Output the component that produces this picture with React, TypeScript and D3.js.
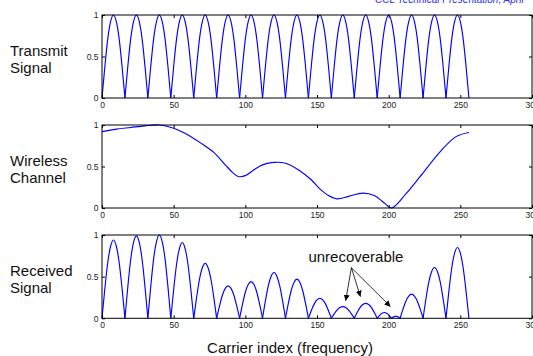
import React, { useEffect, useRef } from "react";
import * as d3 from "d3";

// tick values and labels
const xTicks = [0, 50, 100, 150, 200, 250, 300];
const yTicks = [0, 0.5, 1];
const panelTitles = [
  ["Transmit", "Signal"],
  ["Wireless", "Channel"],
  ["Received", "Signal"],
];

// shape of one sub-carrier lobe (fraction of the lobe's peak)
const lobeProfile = [0, 0.38, 0.71, 0.92, 1, 0.92, 0.71, 0.38, 0];

// transmit: [start, end, peak] per carrier lobe
const transmitLobes: [number, number, number][] = [
  [0, 16, 1], [16, 32, 1], [32, 48, 1], [48, 64, 1],
  [64, 80, 1], [80, 96, 1], [96, 112, 1], [112, 128, 1],
  [128, 144, 1], [144, 160, 1], [160, 176, 1], [176, 192, 1],
  [192, 208, 1], [208, 224, 1], [224, 240, 1], [240, 256, 1],
];

// channel magnitude [carrier, value]
const channelPoints: [number, number][] = [
  [0, 0.92], [10, 0.95], [20, 0.97], [30, 0.99], [40, 1.0], [50, 0.96],
  [60, 0.88], [70, 0.77], [78, 0.67], [86, 0.52], [91, 0.43], [95, 0.38],
  [100, 0.39], [106, 0.46], [112, 0.52], [120, 0.55], [128, 0.54], [138, 0.45],
  [146, 0.34], [152, 0.23], [158, 0.15], [164, 0.11], [172, 0.14], [182, 0.18],
  [190, 0.15], [197, 0.06], [202, 0.0], [212, 0.17], [222, 0.38], [236, 0.68],
  [247, 0.86], [256, 0.91],
];

// received: [start, end, peak] per lobe
const receivedLobes: [number, number, number][] = [
  [0, 16, 0.94], [16, 32, 0.99], [32, 48, 1.0], [48, 64, 0.91],
  [64, 80, 0.66], [80, 96, 0.39], [96, 112, 0.44], [112, 128, 0.55],
  [128, 144, 0.47], [144, 160, 0.24], [160, 176, 0.14], [176, 192, 0.18],
  [192, 202, 0.07], [202, 208, 0.025], [208, 224, 0.29], [224, 240, 0.61],
  [240, 256, 0.85],
];

// annotation (data units of the bottom panel)
const noteText = "unrecoverable";
const notePos: [number, number] = [144, 0.67];
const arrowStart: [number, number] = [174, 0.607];
const arrowEnds: [number, number][] = [
  [170, 0.21],
  [180.3, 0.26],
  [201.3, 0.14],
];

const header = "CCL Technical Presentation, April";
const xLabel = "Carrier index (frequency)";

export default function App() {
  const ref = useRef<SVGSVGElement>(null);

  useEffect(() => {
    const svg = d3.select(ref.current);
    svg.selectAll("*").remove();
    const font = "'Liberation Sans', Arial, sans-serif";
    const left = 102;
    const right = 532;
    const panels = [
      { top: 15, bottom: 98 },
      { top: 125, bottom: 208 },
      { top: 235, bottom: 318.3 },
    ];
    const x = d3.scaleLinear().domain([0, 300]).range([left, right]);

    svg
      .append("defs")
      .append("marker")
      .attr("id", "arr")
      .attr("viewBox", "0 0 10 10")
      .attr("refX", 10)
      .attr("refY", 5)
      .attr("markerWidth", 6)
      .attr("markerHeight", 6)
      .attr("markerUnits", "userSpaceOnUse")
      .attr("orient", "auto")
      .append("path")
      .attr("d", "M0,0L10,5L0,10z")
      .attr("fill", "#000");

    svg
      .append("text")
      .text(header)
      .attr("x", 375)
      .attr("y", 3)
      .attr("fill", "#2b2bff")
      .attr("font-style", "italic")
      .attr("font-family", font)
      .attr("font-size", 10);

    const lobePaths = (lobes: [number, number, number][]) =>
      lobes.map(([s, e, p]) =>
        lobeProfile.map(
          (f, i) => [s + ((e - s) * i) / (lobeProfile.length - 1), p * f] as [number, number]
        )
      );

    const series = [
      lobePaths(transmitLobes),
      [channelPoints],
      lobePaths(receivedLobes),
    ];

    panels.forEach((pn, k) => {
      const y = d3.scaleLinear().domain([0, 1]).range([pn.bottom, pn.top]);
      const g = svg.append("g");

      const line = d3
        .line<[number, number]>()
        .x((d) => x(d[0]))
        .y((d) => y(d[1]))
        .curve(k === 1 ? d3.curveCatmullRom.alpha(0.5) : d3.curveMonotoneX);

      series[k].forEach((pts) => {
        g.append("path")
          .attr("d", line(pts))
          .attr("fill", "none")
          .attr("stroke", "#0000ff")
          .attr("stroke-width", 1.15);
      });

      const bx = g.append("g").attr("transform", `translate(0,${pn.bottom})`)
        .call(d3.axisBottom(x).tickValues(xTicks).tickSize(-3).tickPadding(4));
      const tx = g.append("g").attr("transform", `translate(0,${pn.top})`)
        .call(d3.axisTop(x).tickValues(xTicks).tickSize(-3).tickFormat(() => ""));
      const ly = g.append("g").attr("transform", `translate(${left},0)`)
        .call(d3.axisLeft(y).tickValues(yTicks).tickSize(-3).tickPadding(3.5)
          .tickFormat((d) => String(d)));
      const ry = g.append("g").attr("transform", `translate(${right},0)`)
        .call(d3.axisRight(y).tickValues(yTicks).tickSize(-3).tickFormat(() => ""));
      [bx, tx, ly, ry].forEach((a) => {
        a.select(".domain").remove();
        a.selectAll("text")
          .attr("font-family", font)
          .attr("font-size", 8.5)
          .attr("fill", "#222");
        a.selectAll("line").attr("stroke", "#000");
      });

      g.append("rect")
        .attr("x", left)
        .attr("y", pn.top)
        .attr("width", right - left)
        .attr("height", pn.bottom - pn.top)
        .attr("fill", "none")
        .attr("stroke", "#000")
        .attr("stroke-width", 1);

      const mid = (pn.top + pn.bottom) / 2;
      panelTitles[k].forEach((t, i) => {
        svg.append("text")
          .text(t)
          .attr("x", 10)
          .attr("y", mid - 1 + i * 17)
          .attr("font-family", font)
          .attr("font-size", 15)
          .attr("fill", "#111");
      });

      if (k === 2) {
        svg.append("text")
          .text(noteText)
          .attr("x", x(notePos[0]))
          .attr("y", y(notePos[1]))
          .attr("font-family", font)
          .attr("font-size", 15)
          .attr("fill", "#111");
        arrowEnds.forEach((e) => {
          svg.append("line")
            .attr("x1", x(arrowStart[0]))
            .attr("y1", y(arrowStart[1]))
            .attr("x2", x(e[0]))
            .attr("y2", y(e[1]))
            .attr("stroke", "#000")
            .attr("stroke-width", 0.8)
            .attr("marker-end", "url(#arr)");
        });
      }
    });

    svg.append("text")
      .text(xLabel)
      .attr("x", 290)
      .attr("y", 353)
      .attr("text-anchor", "middle")
      .attr("font-family", font)
      .attr("font-size", 15)
      .attr("fill", "#111");
  }, []);

  return (
    <div style={{ position: "absolute", left: 0, top: 0, width: 533, height: 356, overflow: "hidden", background: "#fff" }}>
      <svg ref={ref} width={533} height={356} style={{ display: "block" }} />
    </div>
  );
}
